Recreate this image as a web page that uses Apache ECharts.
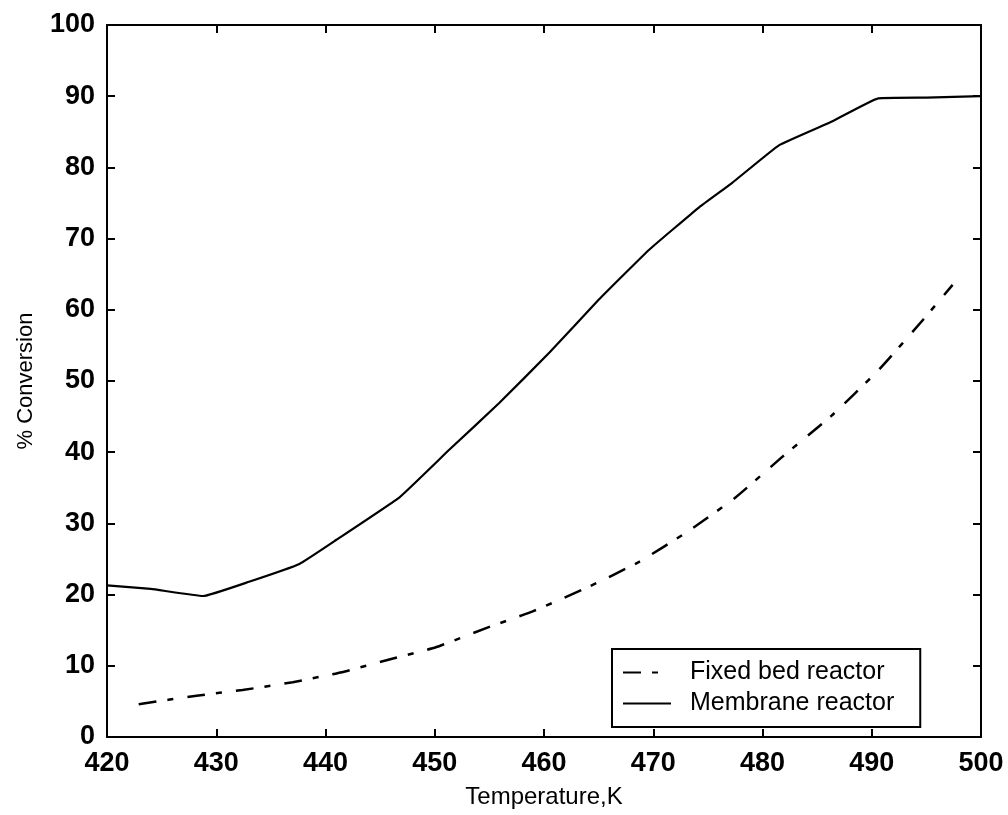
<!DOCTYPE html>
<html>
<head>
<meta charset="utf-8">
<script src="https://cdn.jsdelivr.net/npm/echarts@6/dist/echarts.min.js"></script>
<style>html,body{margin:0;padding:0;background:#fff;}#chart{width:1008px;height:815px;}</style>
</head>
<body>
<div id="chart"></div>
<script>
// Temperature (K) and % conversion
const membraneT = [420, 424, 428.8, 433, 437.6, 441, 446.8, 451.3, 455.9, 460.5, 465, 469.6, 474.2, 477.2, 481.5, 486.3, 490.6, 495, 500];
const membraneX = [21.3, 20.8, 19.8, 21.8, 24.3, 27.7, 33.7, 40.3, 46.9, 54.0, 61.4, 68.4, 74.4, 77.8, 83.1, 86.4, 89.7, 89.8, 90.0];
const fixedT = [422.9, 428.2, 432.4, 437, 441.5, 446.1, 450.1, 454.7, 458.9, 464.1, 468.7, 473.1, 477.5, 481.7, 486.3, 490.6, 494.7, 497.4];
const fixedX = [4.6, 5.8, 6.6, 7.7, 9.1, 11.0, 12.6, 15.3, 17.6, 21.1, 24.6, 28.8, 33.6, 39.2, 45.1, 51.5, 58.6, 63.5];
const seriesNames = ['Fixed bed reactor', 'Membrane reactor'];
const xTitle = 'Temperature,K';
const yTitle = '% Conversion';

const pair = (xs, ys) => xs.map((x, i) => [x, ys[i]]);
const tickFont = {fontFamily: '"Liberation Sans", Arial, sans-serif', fontSize: 27, fontWeight: 'bold', color: '#000'};
const axisLine = {show: true, onZero: false, lineStyle: {color: '#000', width: 2}};
const axisTickIn = {show: true, inside: true, length: 8, lineStyle: {color: '#000', width: 2}};

const chart = echarts.init(document.getElementById('chart'));
chart.setOption({
  animation: false,
  backgroundColor: '#fff',
  grid: {left: 107, right: 27, top: 25, bottom: 78, containLabel: false, outerBoundsMode: 'none'},
  xAxis: [{
    type: 'value', min: 420, max: 500, interval: 10,
    axisLine: axisLine, axisTick: axisTickIn, splitLine: {show: false},
    axisLabel: Object.assign({margin: 13}, tickFont),
    name: xTitle, nameLocation: 'middle', nameGap: 48,
    nameTextStyle: {fontFamily: '"Liberation Sans", Arial, sans-serif', fontSize: 24, color: '#000'}
  }, {
    type: 'value', position: 'top', min: 420, max: 500, interval: 10,
    axisLine: axisLine, axisTick: axisTickIn, axisLabel: {show: false}, splitLine: {show: false}
  }],
  yAxis: [{
    type: 'value', min: 0, max: 100, interval: 10,
    axisLine: axisLine, axisTick: axisTickIn, splitLine: {show: false},
    axisLabel: Object.assign({margin: 12}, tickFont),
    name: yTitle, nameLocation: 'middle', nameGap: 70,
    nameTextStyle: {fontFamily: '"Liberation Sans", Arial, sans-serif', fontSize: 22, color: '#000'}
  }, {
    type: 'value', position: 'right', min: 0, max: 100, interval: 10,
    axisLine: axisLine, axisTick: axisTickIn, axisLabel: {show: false}, splitLine: {show: false}
  }],
  legend: {
    orient: 'vertical', left: 612, top: 649,
    padding: [11, 26, 11, 10], itemGap: 6, itemWidth: 48, itemHeight: 24,
    borderColor: '#000', borderWidth: 2, backgroundColor: '#fff',
    itemStyle: {opacity: 0},
    textStyle: {fontFamily: '"Liberation Sans", Arial, sans-serif', fontSize: 25, color: '#000', padding: [0, 0, 0, 14]},
    data: seriesNames
  },
  series: [{
    name: seriesNames[0], type: 'line', symbol: 'none', smooth: 0.15,
    xAxisIndex: 0, yAxisIndex: 0,
    lineStyle: {color: '#000', width: 2.5, type: [18, 11, 6, 14]},
    itemStyle: {color: '#000'},
    data: pair(fixedT, fixedX)
  }, {
    name: seriesNames[1], type: 'line', symbol: 'none', smooth: 0.1,
    xAxisIndex: 0, yAxisIndex: 0,
    lineStyle: {color: '#000', width: 2.2},
    itemStyle: {color: '#000'},
    data: pair(membraneT, membraneX)
  }]
});
</script>
</body>
</html>
